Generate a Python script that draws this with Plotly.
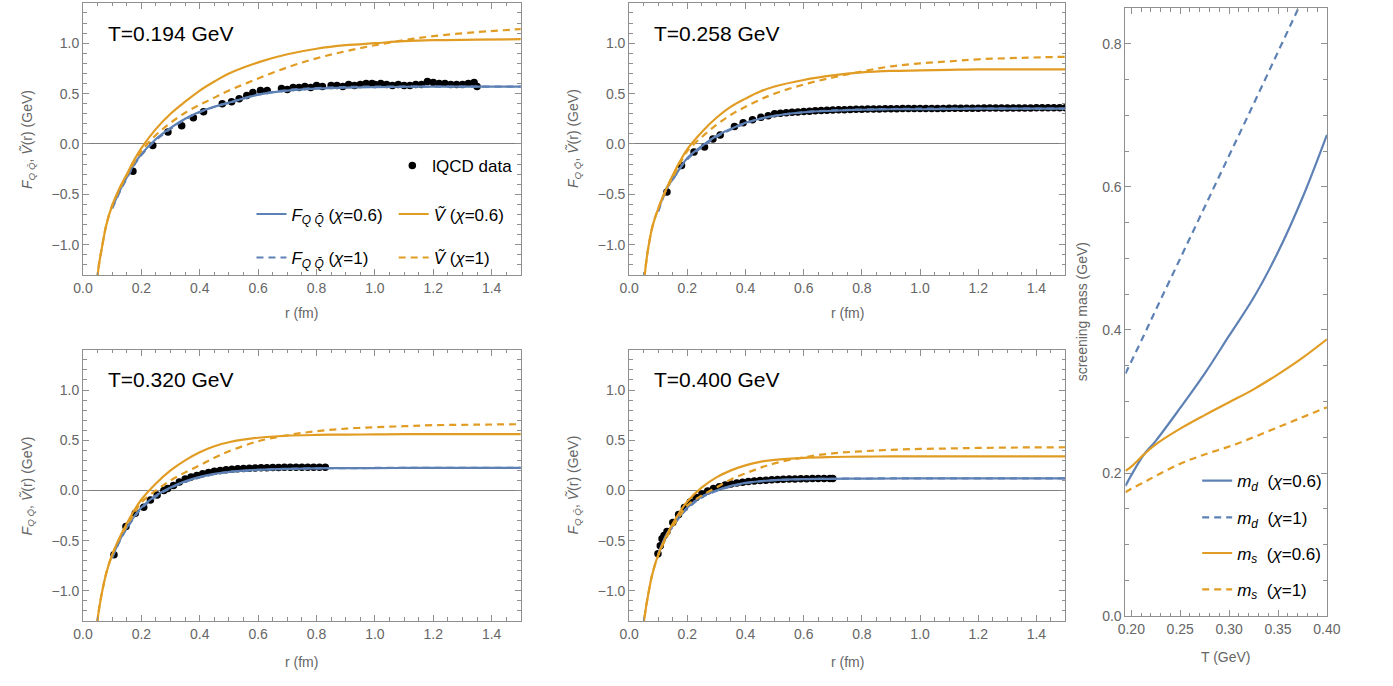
import plotly.graph_objects as go

W, H = 1393, 686
BLUE = "#5E81B5"
ORANGE = "#E19C24"
FRAME = "#8f8f8f"
TICKC = "#666666"
FONT = "Liberation Sans"

# ---------------- curves (r in fm, values in GeV) ----------------
r_V = [0.048, 0.055, 0.064, 0.08, 0.10, 0.13, 0.15, 0.175, 0.20, 0.25, 0.30, 0.35,
       0.40, 0.45, 0.50, 0.60, 0.70, 0.80, 0.90, 1.00, 1.10, 1.20, 1.35, 1.50]
r_F = [0.10, 0.13, 0.15, 0.175, 0.20, 0.25, 0.30, 0.35, 0.40, 0.45, 0.50, 0.60,
       0.70, 0.80, 0.90, 1.00, 1.10, 1.20, 1.35, 1.50]

# T = 0.194 GeV
V06_194 = [-1.35, -1.19, -1.04, -0.80, -0.61, -0.41, -0.30, -0.16, -0.04, 0.15, 0.30, 0.42,
           0.53, 0.62, 0.70, 0.81, 0.89, 0.945, 0.98, 1.00, 1.02, 1.03, 1.035, 1.04]
V1_194 = [-1.35, -1.19, -1.04, -0.80, -0.61, -0.42, -0.31, -0.18, -0.07, 0.09, 0.21, 0.31,
          0.39, 0.46, 0.53, 0.65, 0.76, 0.85, 0.92, 0.98, 1.03, 1.07, 1.11, 1.14]
F06_194 = [-0.63, -0.44, -0.33, -0.20, -0.10, 0.05, 0.16, 0.25, 0.32, 0.37, 0.41, 0.49,
           0.53, 0.55, 0.56, 0.565, 0.568, 0.57, 0.57, 0.57]
F1_194 = [-0.64, -0.45, -0.34, -0.21, -0.11, 0.04, 0.15, 0.245, 0.315, 0.37, 0.41, 0.49,
          0.535, 0.555, 0.565, 0.57, 0.57, 0.57, 0.57, 0.57]

# T = 0.258 GeV
V06_258 = [-1.45, -1.26, -1.06, -0.82, -0.64, -0.43, -0.31, -0.17, -0.05, 0.12, 0.26, 0.37,
           0.45, 0.52, 0.57, 0.635, 0.68, 0.71, 0.725, 0.73, 0.735, 0.74, 0.74, 0.74]
V1_258 = [-1.45, -1.26, -1.06, -0.82, -0.64, -0.44, -0.33, -0.19, -0.07, 0.07, 0.19, 0.29,
          0.37, 0.44, 0.50, 0.59, 0.66, 0.72, 0.77, 0.80, 0.82, 0.84, 0.855, 0.865]
F06_258 = [-0.66, -0.43, -0.35, -0.24, -0.14, -0.02, 0.08, 0.15, 0.21, 0.25, 0.28, 0.315,
           0.33, 0.34, 0.345, 0.345, 0.348, 0.35, 0.35, 0.35]
F1_258 = [-0.67, -0.44, -0.35, -0.24, -0.15, -0.03, 0.07, 0.145, 0.205, 0.25, 0.28, 0.315,
          0.333, 0.342, 0.347, 0.35, 0.35, 0.35, 0.35, 0.35]

# T = 0.320 GeV
V06_320 = [-1.33, -1.18, -1.03, -0.82, -0.64, -0.44, -0.33, -0.20, -0.09, 0.07, 0.20, 0.30,
           0.38, 0.44, 0.48, 0.525, 0.545, 0.553, 0.556, 0.558, 0.56, 0.56, 0.56, 0.56]
V1_320 = [-1.33, -1.18, -1.03, -0.82, -0.64, -0.45, -0.35, -0.23, -0.12, 0.0, 0.10, 0.18,
          0.25, 0.325, 0.39, 0.49, 0.55, 0.59, 0.615, 0.63, 0.64, 0.65, 0.655, 0.66]
F06_320 = [-0.66, -0.47, -0.37, -0.26, -0.17, -0.05, 0.03, 0.09, 0.135, 0.165, 0.185, 0.205,
           0.215, 0.22, 0.222, 0.223, 0.224, 0.225, 0.225, 0.225]
F1_320 = [-0.67, -0.48, -0.38, -0.27, -0.18, -0.06, 0.025, 0.085, 0.13, 0.162, 0.183, 0.204,
          0.215, 0.22, 0.222, 0.224, 0.225, 0.226, 0.226, 0.226]

# T = 0.400 GeV
V06_400 = [-1.38, -1.22, -1.06, -0.83, -0.64, -0.44, -0.33, -0.21, -0.11, 0.03, 0.13, 0.20,
           0.25, 0.285, 0.305, 0.325, 0.333, 0.337, 0.339, 0.34, 0.34, 0.34, 0.34, 0.34]
V1_400 = [-1.38, -1.22, -1.06, -0.83, -0.65, -0.46, -0.36, -0.25, -0.15, -0.05, 0.03, 0.11,
          0.17, 0.225, 0.27, 0.33, 0.37, 0.39, 0.405, 0.413, 0.418, 0.423, 0.428, 0.43]
F06_400 = [-0.63, -0.43, -0.35, -0.25, -0.17, -0.06, 0.0, 0.045, 0.075, 0.092, 0.103, 0.112,
           0.116, 0.118, 0.119, 0.12, 0.12, 0.12, 0.12, 0.12]
F1_400 = [-0.64, -0.44, -0.36, -0.26, -0.18, -0.07, -0.005, 0.04, 0.072, 0.09, 0.102, 0.112,
          0.116, 0.118, 0.12, 0.12, 0.121, 0.121, 0.121, 0.121]

# ---------------- lattice QCD data ----------------
lat_r_194 = [0.171, 0.239, 0.291, 0.338, 0.378, 0.413, 0.477, 0.509, 0.535, 0.561, 0.582, 0.608, 0.631,
             0.68, 0.70, 0.72, 0.74, 0.76, 0.78, 0.80, 0.82,
             0.85, 0.87, 0.89, 0.91, 0.93, 0.95, 0.97, 0.99,
             1.00, 1.02, 1.04, 1.06, 1.08, 1.10, 1.12, 1.14, 1.16, 1.18, 1.20, 1.22, 1.24, 1.26,
             1.28, 1.30, 1.32, 1.34, 1.35]
lat_F_194 = [-0.27, -0.016, 0.118, 0.18, 0.26, 0.32, 0.40, 0.42, 0.45, 0.48, 0.51, 0.53, 0.53,
             0.55, 0.54, 0.56, 0.56, 0.57, 0.56, 0.58, 0.57,
             0.58, 0.58, 0.57, 0.59, 0.58, 0.59, 0.60, 0.60,
             0.59, 0.60, 0.59, 0.58, 0.59, 0.58, 0.58, 0.59, 0.59, 0.62, 0.61, 0.60, 0.60, 0.59,
             0.59, 0.59, 0.60, 0.61, 0.57]

lat_r_258 = [0.130, 0.180, 0.223, 0.259, 0.288, 0.313, 0.362, 0.392, 0.424, 0.453, 0.478,
             0.50, 0.52, 0.54, 0.56, 0.58, 0.60, 0.62, 0.64, 0.66, 0.68, 0.70, 0.72, 0.74, 0.76,
             0.78, 0.80, 0.82, 0.84, 0.86, 0.88, 0.90, 0.92, 0.94, 0.96, 0.98, 1.00, 1.02, 1.04,
             1.06, 1.08, 1.10, 1.12, 1.14, 1.16, 1.18, 1.20, 1.22, 1.24, 1.26, 1.28, 1.30, 1.32,
             1.34, 1.36, 1.38, 1.40, 1.42, 1.44, 1.46, 1.48, 1.50]
lat_F_258 = [-0.477, -0.214, -0.08, -0.03, 0.05, 0.09, 0.174, 0.21, 0.24, 0.265, 0.28,
             0.300, 0.305, 0.310, 0.315, 0.318, 0.322, 0.326, 0.330, 0.332, 0.335, 0.337, 0.340,
             0.341, 0.343, 0.344, 0.345, 0.346, 0.347, 0.348, 0.349, 0.350, 0.350, 0.351, 0.351,
             0.352, 0.352, 0.352, 0.353, 0.353, 0.353, 0.354, 0.354, 0.354, 0.355, 0.355, 0.355,
             0.356, 0.356, 0.356, 0.357, 0.357, 0.357, 0.358, 0.358, 0.358, 0.359, 0.359, 0.359,
             0.360, 0.360, 0.360]

lat_r_320 = [0.106, 0.147, 0.179, 0.208, 0.231, 0.254, 0.277,
             0.29, 0.31, 0.33, 0.35, 0.37, 0.39, 0.41, 0.43, 0.45, 0.47, 0.49, 0.51, 0.53, 0.55,
             0.57, 0.59, 0.61, 0.63, 0.65, 0.67, 0.69, 0.71, 0.73, 0.75, 0.77, 0.79, 0.81, 0.83]
lat_F_320 = [-0.64, -0.36, -0.226, -0.167, -0.095, -0.046, 0.0,
             0.02, 0.05, 0.085, 0.115, 0.135, 0.15, 0.165, 0.178, 0.19, 0.198, 0.205, 0.211,
             0.215, 0.219, 0.222, 0.224, 0.226, 0.227, 0.228, 0.229, 0.230, 0.230, 0.231, 0.231,
             0.232, 0.232, 0.232, 0.232]

lat_r_400 = [0.099, 0.107, 0.113, 0.12,
             0.13, 0.15, 0.17, 0.19, 0.21, 0.23, 0.25, 0.27, 0.29, 0.31, 0.33, 0.35, 0.37, 0.39,
             0.41, 0.43, 0.45, 0.47, 0.49, 0.51, 0.53, 0.55, 0.57, 0.59, 0.61, 0.63, 0.65, 0.67,
             0.69, 0.70]
lat_F_400 = [-0.63, -0.55, -0.48, -0.45,
             -0.41, -0.32, -0.24, -0.17, -0.115, -0.07, -0.035, -0.005, 0.02, 0.038, 0.053,
             0.065, 0.075, 0.082, 0.088, 0.093, 0.098, 0.102, 0.106, 0.109, 0.111, 0.113,
             0.115, 0.116, 0.117, 0.118, 0.119, 0.12, 0.12, 0.12]

# ---------------- screening masses ----------------
T_grid = [0.194, 0.20, 0.213, 0.225, 0.25, 0.275, 0.30, 0.325, 0.35, 0.375, 0.40]
md_06 = [0.182, 0.197, 0.226, 0.245, 0.291, 0.339, 0.392, 0.445, 0.509, 0.585, 0.673]
md_1 = [0.339, 0.356, 0.393, 0.428, 0.500, 0.572, 0.644, 0.716, 0.789, 0.862, 0.935]
ms_06 = [0.203, 0.209, 0.226, 0.240, 0.262, 0.281, 0.299, 0.317, 0.338, 0.361, 0.387]
ms_1 = [0.173, 0.178, 0.187, 0.196, 0.213, 0.226, 0.237, 0.250, 0.264, 0.278, 0.292]

panels = [
    ("0.194", lat_r_194, lat_F_194, V06_194, V1_194, F06_194, F1_194),
    ("0.258", lat_r_258, lat_F_258, V06_258, V1_258, F06_258, F1_258),
    ("0.320", lat_r_320, lat_F_320, V06_320, V1_320, F06_320, F1_320),
    ("0.400", lat_r_400, lat_F_400, V06_400, V1_400, F06_400, F1_400),
]


def px(x):
    return x / W


def py(y):
    return 1 - y / H


XDOM = [[74.3, 519.8], [630, 1074], [74.3, 519.8], [630, 1074]]
YDOM = [[2.9, 278.3], [2.9, 278.3], [354, 628.3], [354, 628.3]]

F_LABEL = "<i>F</i><sub><i>Q Q̄</i></sub>"
V_LABEL = "<i>Ṽ</i>"
DASH = "7px,5px"
LW = 2.2

fig = go.Figure()
layout = dict(
    width=W, height=H, margin=dict(l=0, r=0, t=0, b=0),
    paper_bgcolor="white", plot_bgcolor="white",
    font=dict(family=FONT, size=14, color="black"),
    annotations=[],
)

legend_defs = {}


def add_legend(name, x0, yc):
    legend_defs[name] = dict(
        x=px(x0), y=py(yc), xanchor="left", yanchor="middle",
        bgcolor="rgba(0,0,0,0)", borderwidth=0,
        font=dict(family=FONT, size=17, color="black"),
        itemclick=False, itemdoubleclick=False,
    )


for i, (T, lr, lF, V06, V1, F06, F1) in enumerate(panels):
    k = i + 1
    xa = "x" if k == 1 else f"x{k}"
    ya = "y" if k == 1 else f"y{k}"
    first = (k == 1)
    fig.add_trace(go.Scatter(
        x=lr, y=lF, mode="markers", xaxis=xa, yaxis=ya,
        marker=dict(color="black", size=7.5),
        name="lQCD data", showlegend=first, legend="legend"))
    fig.add_trace(go.Scatter(
        x=r_F, y=F1, mode="lines", xaxis=xa, yaxis=ya, line_shape="spline",
        line=dict(color=BLUE, width=LW, dash=DASH),
        name=F_LABEL + " (<i>χ</i>=1)", showlegend=first, legend="legend4"))
    fig.add_trace(go.Scatter(
        x=r_F, y=F06, mode="lines", xaxis=xa, yaxis=ya, line_shape="spline",
        line=dict(color=BLUE, width=LW),
        name=F_LABEL + " (<i>χ</i>=0.6)", showlegend=first, legend="legend2"))
    fig.add_trace(go.Scatter(
        x=r_V, y=V1, mode="lines", xaxis=xa, yaxis=ya, line_shape="spline",
        line=dict(color=ORANGE, width=LW, dash=DASH),
        name=V_LABEL + " (<i>χ</i>=1)", showlegend=first, legend="legend5"))
    fig.add_trace(go.Scatter(
        x=r_V, y=V06, mode="lines", xaxis=xa, yaxis=ya, line_shape="spline",
        line=dict(color=ORANGE, width=LW),
        name=V_LABEL + " (<i>χ</i>=0.6)", showlegend=first, legend="legend3"))

    xd = [px(XDOM[i][0]), px(XDOM[i][1])]
    yd = [py(YDOM[i][1]), py(YDOM[i][0])]
    axkey = "xaxis" if k == 1 else f"xaxis{k}"
    aykey = "yaxis" if k == 1 else f"yaxis{k}"
    layout[axkey] = dict(
        domain=xd, anchor=ya, range=[0, 1.5], tick0=0, dtick=0.2, tickformat=".1f",
        showline=True, linecolor=FRAME, linewidth=1, mirror="allticks",
        ticks="inside", ticklen=6, tickcolor=FRAME, showgrid=False, zeroline=False,
        tickfont=dict(family=FONT, size=14, color=TICKC),
        minor=dict(dtick=0.05, tick0=0, ticks="inside", ticklen=3.5, tickcolor=FRAME, showgrid=False),
    )
    layout[aykey] = dict(
        domain=yd, anchor=xa, range=[-1.3, 1.4], tick0=0, dtick=0.5, tickformat=".1f",
        showline=True, linecolor=FRAME, linewidth=1, mirror="allticks",
        ticks="inside", ticklen=6, tickcolor=FRAME, showgrid=False,
        zeroline=True, zerolinecolor="#808080", zerolinewidth=1,
        tickfont=dict(family=FONT, size=14, color=TICKC),
        minor=dict(dtick=0.1, tick0=0, ticks="inside", ticklen=3.5, tickcolor=FRAME, showgrid=False),
    )
    layout["annotations"].append(dict(
        x=0.08, y=1.10, xref=xa, yref=ya, xanchor="left", yanchor="middle",
        text=f"T={T} GeV", showarrow=False, font=dict(family=FONT, size=21, color="black")))
    xc = (XDOM[i][0] + XDOM[i][1]) / 2
    ty = 317 if i < 2 else 670
    layout["annotations"].append(dict(
        x=px(xc), y=py(ty), xref="paper", yref="paper", xanchor="center", yanchor="middle",
        text="r (fm)", showarrow=False, font=dict(family=FONT, size=14, color=TICKC)))
    yc = (YDOM[i][0] + YDOM[i][1]) / 2
    layout["annotations"].append(dict(
        x=px(XDOM[i][0] - 56), y=py(yc), xref="paper", yref="paper",
        xanchor="center", yanchor="middle", textangle=-90,
        text=F_LABEL + ", " + V_LABEL + "(r) (GeV)", showarrow=False,
        font=dict(family=FONT, size=14, color=TICKC)))

scr = [
    (md_06, BLUE, None, "<i>m</i><sub><i>d</i></sub>  (<i>χ</i>=0.6)", "legend6"),
    (md_1, BLUE, DASH, "<i>m</i><sub><i>d</i></sub>  (<i>χ</i>=1)", "legend7"),
    (ms_06, ORANGE, None, "<i>m</i><sub><i>s</i></sub>  (<i>χ</i>=0.6)", "legend8"),
    (ms_1, ORANGE, DASH, "<i>m</i><sub><i>s</i></sub>  (<i>χ</i>=1)", "legend9"),
]
for vals, col, dash, name, lg in scr:
    fig.add_trace(go.Scatter(
        x=T_grid, y=vals, mode="lines", xaxis="x5", yaxis="y5", line_shape="spline",
        line=dict(color=col, width=LW, dash=dash), name=name, legend=lg))

SX = [1135, 1340]
SY = [8.3, 623.3]
layout["xaxis5"] = dict(
    domain=[px(SX[0]), px(SX[1])], anchor="y5", range=[0.194, 0.40], tick0=0, dtick=0.05,
    tickformat=".2f", showline=True, linecolor=FRAME, linewidth=1, mirror="allticks",
    ticks="inside", ticklen=6, tickcolor=FRAME, showgrid=False, zeroline=False,
    tickfont=dict(family=FONT, size=14, color=TICKC),
    minor=dict(dtick=0.01, tick0=0, ticks="inside", ticklen=3.5, tickcolor=FRAME, showgrid=False),
)
layout["yaxis5"] = dict(
    domain=[py(SY[1]), py(SY[0])], anchor="x5", range=[0, 0.85], tick0=0, dtick=0.2,
    tickformat=".1f", showline=True, linecolor=FRAME, linewidth=1, mirror="allticks",
    ticks="inside", ticklen=6, tickcolor=FRAME, showgrid=False, zeroline=False,
    tickfont=dict(family=FONT, size=14, color=TICKC),
    minor=dict(dtick=0.05, tick0=0, ticks="inside", ticklen=3.5, tickcolor=FRAME, showgrid=False),
)
layout["annotations"].append(dict(
    x=px((SX[0] + SX[1]) / 2), y=py(665), xref="paper", yref="paper",
    xanchor="center", yanchor="middle",
    text="T (GeV)", showarrow=False, font=dict(family=FONT, size=14, color=TICKC)))
layout["annotations"].append(dict(
    x=px(1091), y=py((SY[0] + SY[1]) / 2), xref="paper", yref="paper", textangle=-90,
    xanchor="center", yanchor="middle",
    text="screening mass (GeV)", showarrow=False, font=dict(family=FONT, size=14, color=TICKC)))

add_legend("legend", 389, 168)
add_legend("legend2", 245.7, 217)
add_legend("legend3", 390.4, 217)
add_legend("legend4", 245.7, 261)
add_legend("legend5", 390.4, 261)
add_legend("legend6", 1208, 486.7)
add_legend("legend7", 1208, 524)
add_legend("legend8", 1208, 560)
add_legend("legend9", 1208, 596.7)
layout.update(legend_defs)

fig.update_layout(**layout)
# no mode bar; remove the default 8px page margin so the figure sits at the window origin
fig.write_html("out.html",
               config={"displayModeBar": False, "staticPlot": True},
               post_script="document.body.style.margin='0px';document.body.style.overflow='hidden';")
